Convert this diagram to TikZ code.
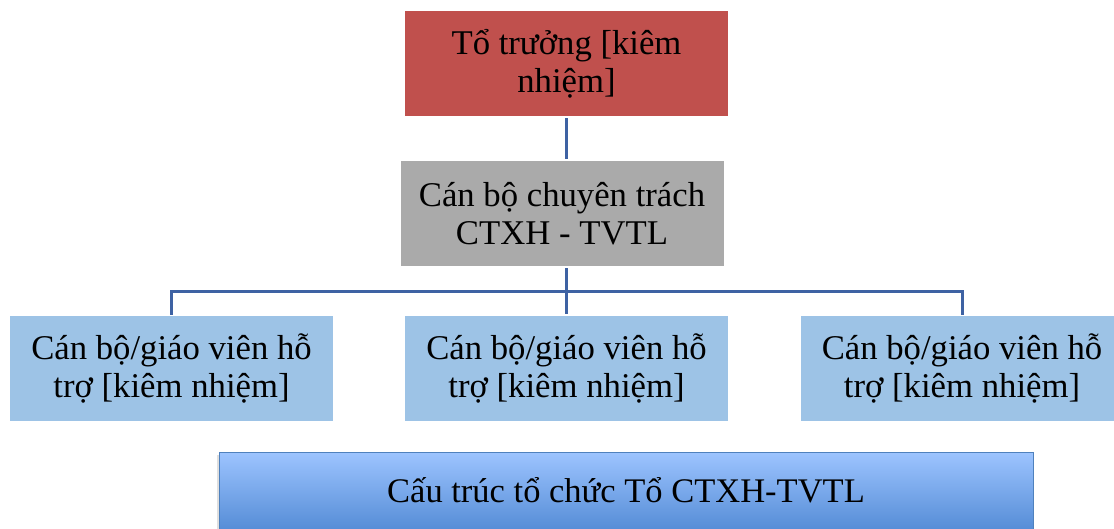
\documentclass[tikz,border=0pt]{standalone}
\usepackage{fontspec}
\setmainfont{Liberation Serif}
\usetikzlibrary{calc}
\definecolor{redbox}{RGB}{192,80,77}
\definecolor{graybox}{RGB}{170,170,170}
\definecolor{bluebox}{RGB}{157,195,230}
\definecolor{linecol}{RGB}{62,98,163}
\definecolor{captop}{RGB}{157,196,255}
\definecolor{capbot}{RGB}{74,132,208}
\definecolor{capborder}{RGB}{79,129,189}
\tikzset{
  box/.style={rectangle, minimum width=323pt, minimum height=105pt, inner sep=0pt,
    align=center, font=\fontsize{34.7}{38}\selectfont},
  conn/.style={draw=linecol, line width=3pt, shorten <=2pt, shorten >=2pt},
}
\begin{document}
\begin{tikzpicture}[x=1pt,y=-1pt]
\useasboundingbox (0,0) rectangle (1114,529);
\clip (0,0) rectangle (1114,529);
\node[box, fill=redbox] (top) at (566.5,63.5) {Tổ trưởng [kiêm\\nhiệm]};
\node[box, fill=graybox] (mid) at (562,213.5) {Cán bộ chuyên trách\\CTXH - TVTL};
\node[box, fill=bluebox] (c1) at (171.5,368.5) {Cán bộ/giáo viên hỗ\\trợ [kiêm nhiệm]};
\node[box, fill=bluebox] (c2) at (566.5,368.5) {Cán bộ/giáo viên hỗ\\trợ [kiêm nhiệm]};
\node[box, fill=bluebox] (c3) at (962,368.5) {Cán bộ/giáo viên hỗ\\trợ [kiêm nhiệm]};
\coordinate (bus) at (566.5,292);
\draw[conn] (top.south) -- (top.south |- mid.north);
\draw[conn] (c2.north |- mid.south) -- (c2.north);
\draw[conn, line cap=rect, shorten <=2pt] (c1.north) -- (c1.north |- bus) -- (c3.north |- bus) -- (c3.north);
% caption
\fill[gray!25] (217,455) rectangle (1033,540);
\node[rectangle, minimum width=814pt, minimum height=90pt, top color=captop, bottom color=capbot,
  draw=capborder, line width=1pt, inner sep=0pt] (cap) at (626,497) {};
\node[font=\fontsize{34.5}{40}\selectfont, anchor=base] (captxt) at (626,502) {Cấu trúc tổ chức Tổ CTXH-TVTL};
\end{tikzpicture}
\end{document}
